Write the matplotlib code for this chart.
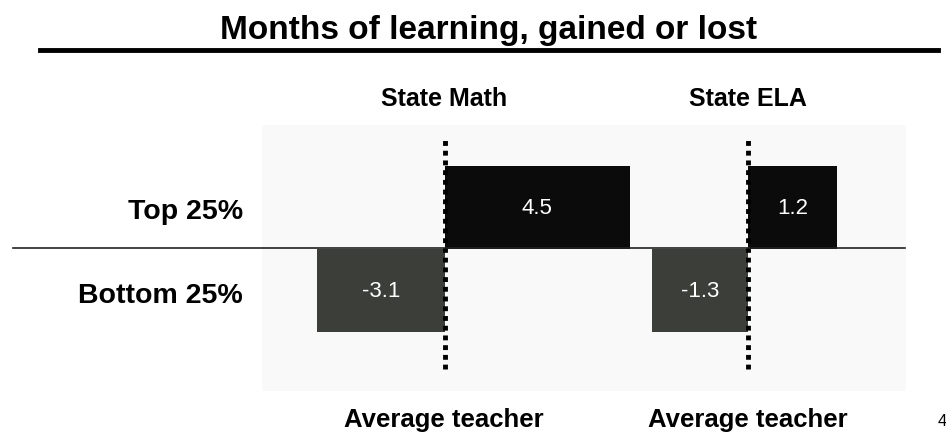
import matplotlib.pyplot as plt
from matplotlib.lines import Line2D
from matplotlib.patches import Rectangle

plt.rcParams['font.family'] = ['Liberation Sans', 'DejaVu Sans']

# Dados (meses de aprendizado ganhos ou perdidos)
grupos = ['Top 25%', 'Bottom 25%']
materias = ['State Math', 'State ELA']
math_vals = [4.5, -3.1]
ela_vals = [1.2, -1.3]
rotulo_zero = 'Average teacher'

W, H = 946, 435
fig = plt.figure(figsize=(W / 100, H / 100), dpi=100)

def px_box(x0, y0, x1, y1):
    # converte pixels (origem no topo) para coordenadas de figura
    return [x0 / W, 1 - y1 / H, (x1 - x0) / W, (y1 - y0) / H]

# painel cinza bem claro atras das barras
fig.add_artist(Rectangle((262 / W, 1 - 392 / H), (906 - 262) / W, (392 - 126) / H,
                         transform=fig.transFigure, facecolor='#f9f9f9',
                         edgecolor='none', zorder=0))

cores = ['#0b0b0b', '#3b3e39']

eixos = [
    (fig.add_axes(px_box(262, 125, 640, 375)), math_vals, (-4.45, 4.75), 444),
    (fig.add_axes(px_box(640, 125, 905, 375)), ela_vals, (-1.46, 2.12), 748),
]

for (ax, vals, xlim, xc), nome in zip(eixos, materias):
    ax.set_facecolor('none')
    ax.barh([0.5, -0.5], vals, height=1.0, color=cores, zorder=2)
    for y, v in zip([0.5, -0.5], vals):
        ax.text(v / 2, y, f'{v:.1f}', color='white', ha='center', va='center',
                fontsize=16, zorder=3)
    ax.axvline(0, ymin=0.02, ymax=0.94, color='black', linestyle=(0, (1, 1)),
               linewidth=3.5, zorder=4)
    ax.set_xlim(*xlim)
    ax.set_ylim(-1.5, 1.5)
    ax.axis('off')
    fig.text(xc / W, 1 - 106 / H, nome, ha='center', va='baseline',
             fontsize=18, fontweight='bold')
    fig.text(xc / W, 1 - 427 / H, rotulo_zero, ha='center', va='baseline',
             fontsize=18.5, fontweight='bold')

# linha horizontal de separacao
fig.add_artist(Line2D([13 / W, 905 / W], [1 - 249 / H] * 2, color='#222222',
                      linewidth=1.2, zorder=1))

# rotulos dos grupos
for nome, y in zip(grupos, [219, 303]):
    fig.text(243 / W, 1 - y / H, nome, ha='right', va='baseline',
             fontsize=20.5, fontweight='bold')

# titulo e linha grossa
fig.text(489 / W, 1 - 39 / H, 'Months of learning, gained or lost',
         ha='center', va='baseline', fontsize=24, fontweight='bold')
fig.add_artist(Line2D([40 / W, 938 / W], [1 - 51 / H] * 2, color='black',
                      linewidth=3.5))

fig.text(938 / W, 1 - 426 / H, '4', ha='left', va='baseline', fontsize=12)

fig.savefig('out.png', dpi=100)
